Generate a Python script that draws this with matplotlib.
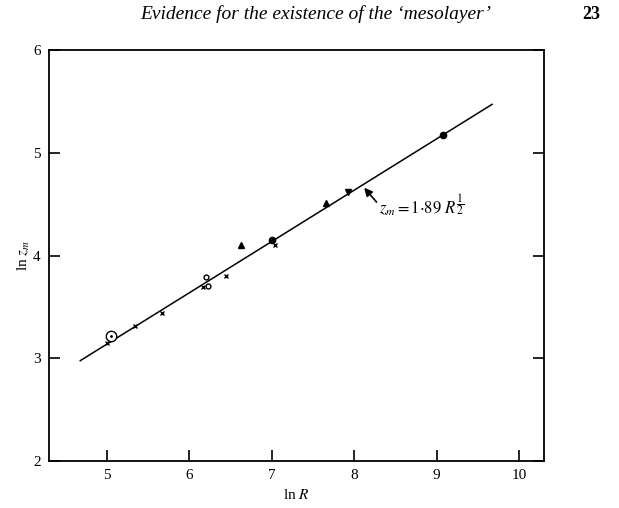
import numpy as np
import matplotlib.pyplot as plt

plt.rcParams['font.family'] = ['Liberation Serif', 'DejaVu Serif']
plt.rcParams['mathtext.fontset'] = 'stix'

# data (ln R, ln z_m)
cross_x = [5.0, 5.34, 5.67, 6.17, 6.45, 7.04]
cross_y = [3.15, 3.31, 3.44, 3.69, 3.80, 4.10]
open_x = [6.23, 6.20]
open_y = [3.70, 3.79]
dot_x = [7.0, 9.07]
dot_y = [4.15, 5.17]
tri_up_x = [6.63, 7.66]
tri_up_y = [4.10, 4.51]
tri_dn_x = [7.92]
tri_dn_y = [4.62]
ring_x = [5.05]
ring_y = [3.22]

# fitted line z_m = 1.89 R^(1/2)
fit_a = 1.89
fit_n = 0.5
fit_range = [4.68, 9.67]

fig = plt.figure(figsize=(6.19, 5.08), dpi=100)
ax = fig.add_axes([0.079, 0.0925, 0.8, 0.809])

lx = np.array(fit_range)
ax.plot(lx, np.log(fit_a) + fit_n * lx, color='black', lw=1.1)

ax.plot(cross_x, cross_y, 'x', color='black', ms=3.5, mew=1.0)
ax.plot(open_x, open_y, 'o', mfc='white', mec='black', ms=3.5, mew=1.0)
ax.plot(dot_x, dot_y, 'o', color='black', ms=4.5)
ax.plot(tri_up_x, tri_up_y, '^', color='black', ms=4.5)
ax.plot(tri_dn_x, tri_dn_y, 'v', color='black', ms=4.5)
ax.plot(ring_x, ring_y, 'o', mfc='white', mec='black', ms=7.5, mew=1.0)
ax.plot(ring_x, ring_y, '.', color='black', ms=2)

# arrow pointing at the line, label beside it
ax.annotate('', xy=(8.12, 4.66), xytext=(8.27, 4.52),
            arrowprops=dict(arrowstyle='-|>', color='black', lw=1.2,
                            mutation_scale=12, shrinkA=0, shrinkB=0))
ax.text(8.3, 4.49, r'$z_m = 1{\cdot}89\ R^{\dfrac{1}{2}}$', fontsize=12,
        ha='left', va='center')

ax.set_xlim(4.3, 10.3)
ax.set_ylim(2, 6)
ax.set_xticks([5, 6, 7, 8, 9, 10])
ax.set_yticks([2, 3, 4, 5, 6])
ax.tick_params(direction='in', length=8, width=1.2, labelsize=11, right=True, pad=6)
for s in ax.spines.values():
    s.set_linewidth(1.3)

ax.set_xlabel(r'ln $R$', fontsize=11)
ax.set_ylabel(r'ln $z_m$', fontsize=11, labelpad=1)

fig.text(0.51, 0.972, 'Evidence for the existence of the \u2018mesolayer\u2019',
         ha='center', va='center', style='italic', fontsize=14)
fig.text(0.955, 0.972, '23', ha='center', va='center', fontweight='bold', fontsize=13)

fig.savefig('out.png', dpi=100)
